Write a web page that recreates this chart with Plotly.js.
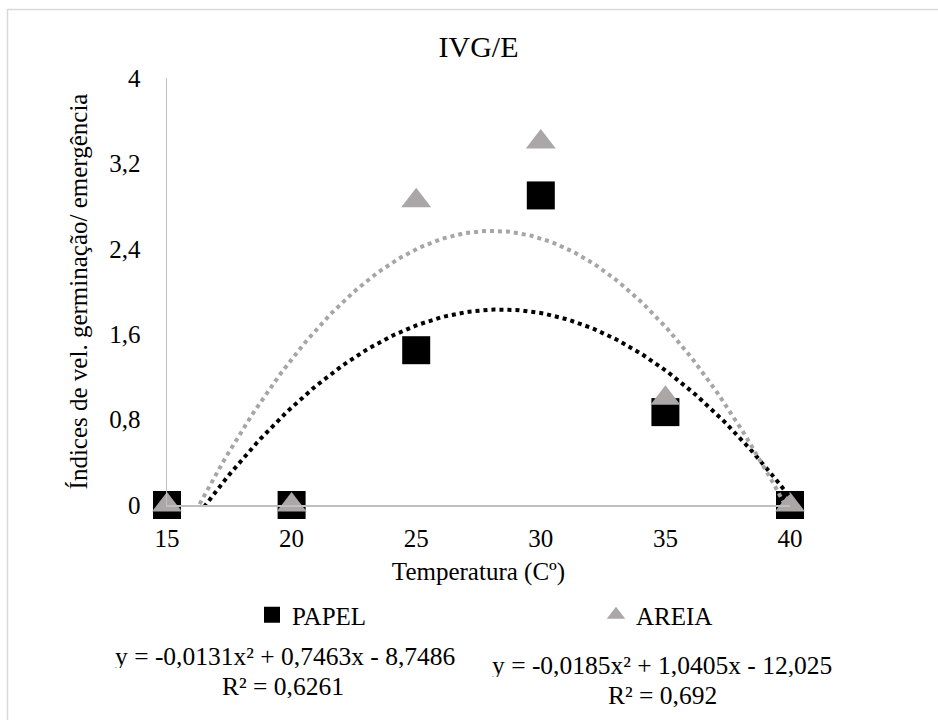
<!DOCTYPE html>
<html>
<head>
<meta charset="utf-8">
<script src="https://cdn.plot.ly/plotly-3.0.1.min.js"></script>
<style>html,body{margin:0;padding:0;background:#fff;}#chart{width:938px;height:720px;}</style>
</head>
<body>
<div id="chart"></div>
<script>
// Data
const temperatures = [15, 20, 25, 30, 35, 40];
const papel = [0, 0, 1.45, 2.9, 0.87, 0];
const areia = [0, 0, 2.85, 3.4, 1.0, 0];
const seriesNames = ['PAPEL', 'AREIA'];
const chartTitle = 'IVG/E';
const xTitle = 'Temperatura (Cº)';
const yTitle = 'Índices de vel. germinação/ emergência';
const eqPapel = ['y = -0,0131x² + 0,7463x - 8,7486', 'R² = 0,6261'];
const eqAreia = ['y = -0,0185x² + 1,0405x - 12,025', 'R² = 0,692'];

// Least-squares quadratic fit (polynomial trendline, order 2)
function quadFit(xs, ys) {
  let S = [0,0,0,0,0], T = [0,0,0];
  for (let i = 0; i < xs.length; i++) {
    let p = 1;
    for (let k = 0; k < 5; k++) { S[k] += p; if (k < 3) T[k] += p * ys[i]; p *= xs[i]; }
  }
  const A = [[S[0],S[1],S[2],T[0]],[S[1],S[2],S[3],T[1]],[S[2],S[3],S[4],T[2]]];
  for (let c = 0; c < 3; c++) {
    for (let r = c + 1; r < 3; r++) {
      const f = A[r][c] / A[c][c];
      for (let k = c; k < 4; k++) A[r][k] -= f * A[c][k];
    }
  }
  const sol = [0,0,0];
  for (let r = 2; r >= 0; r--) {
    let s = A[r][3];
    for (let k = r + 1; k < 3; k++) s -= A[r][k] * sol[k];
    sol[r] = s / A[r][r];
  }
  return sol; // [c0, c1, c2]
}
function trend(xs, ys) {
  const c = quadFit(xs, ys);
  const x0 = Math.min(...xs), x1 = Math.max(...xs);
  const tx = [], ty = [];
  const n = 200;
  for (let i = 0; i <= n; i++) {
    const x = x0 + (x1 - x0) * i / n;
    tx.push(x); ty.push(c[0] + c[1] * x + c[2] * x * x);
  }
  return {x: tx, y: ty};
}
const tP = trend(temperatures, papel);
const tA = trend(temperatures, areia);

const FONT = '"Liberation Serif", "Times New Roman", serif';
const grayMarker = '#aba7a7';

const traces = [
  {x: temperatures, y: papel, name: seriesNames[0], type: 'scatter', mode: 'markers', cliponaxis: false,
   marker: {symbol: 'square', size: 28, color: '#000000'}, legend: 'legend'},
  {x: temperatures, y: areia, name: seriesNames[1], type: 'scatter', mode: 'markers', cliponaxis: false,
   marker: {symbol: 'triangle-up', size: 26, color: grayMarker}, legend: 'legend2'},
  {x: tP.x, y: tP.y, type: 'scatter', mode: 'lines', showlegend: false, hoverinfo: 'skip',
   line: {color: '#000000', width: 4, dash: '4px,4px'}},
  {x: tA.x, y: tA.y, type: 'scatter', mode: 'lines', showlegend: false, hoverinfo: 'skip',
   line: {color: '#a6a6a6', width: 4, dash: '4px,4px'}}
];

const L = 167, R = 148, T = 78, B = 215, W = 938, H = 720;
const pw = W - L - R, ph = H - T - B;
const px = v => (v - L) / pw;
const py = v => (H - B - v) / ph;

const annFont = {family: FONT, size: 25.5, color: '#000'};
const eqAnn = (text, x, y) => ({text: text, xref: 'paper', yref: 'paper', x: px(x), y: py(y),
  xanchor: 'center', yanchor: 'middle', showarrow: false, font: annFont, height: 24, valign: 'middle'});

const layout = {
  width: W, height: H,
  margin: {l: L, r: R, t: T, b: B, pad: 0},
  paper_bgcolor: '#fff', plot_bgcolor: '#fff',
  separators: ', ',
  font: {family: FONT, size: 25, color: '#000'},
  title: {text: chartTitle, font: {family: FONT, size: 30, color: '#000'}, x: 0.5, xref: 'paper', y: 1 - 46 / H, yanchor: 'middle'},
  xaxis: {range: [15, 40], tick0: 15, dtick: 5, showgrid: false, zeroline: false, showline: true,
          linecolor: '#bfbfbf', linewidth: 1.5, ticks: '', ticklabelstandoff: 10,
          tickfont: {family: FONT, size: 25, color: '#000'},
          title: {text: xTitle, font: {family: FONT, size: 25, color: '#000'}, standoff: 12}},
  yaxis: {range: [0, 4], tick0: 0, dtick: 0.8, showgrid: false, zeroline: false, showline: true,
          linecolor: '#bfbfbf', linewidth: 1.5, ticks: '', ticklabelstandoff: 20,
          tickfont: {family: FONT, size: 25, color: '#000'},
          title: {text: yTitle, font: {family: FONT, size: 25, color: '#000'}, standoff: 14}},
  showlegend: true,
  legend: {orientation: 'h', x: px(252), xanchor: 'left', y: py(615), yanchor: 'middle',
           font: {family: FONT, size: 25, color: '#000'}, bgcolor: 'rgba(0,0,0,0)'},
  legend2: {orientation: 'h', x: px(596), xanchor: 'left', y: py(615), yanchor: 'middle',
           font: {family: FONT, size: 25, color: '#000'}, bgcolor: 'rgba(0,0,0,0)'},
  annotations: [
    eqAnn(eqPapel[0], 285, 656),
    eqAnn(eqPapel[1], 283, 686),
    eqAnn(eqAreia[0], 662, 665),
    eqAnn(eqAreia[1], 662, 695)
  ],
  shapes: [
    {type: 'rect', xref: 'paper', yref: 'paper', x0: px(7.5), x1: px(960), y0: py(9.5), y1: py(760),
     line: {color: '#d9d9d9', width: 1.5}, fillcolor: 'rgba(0,0,0,0)', layer: 'below'}
  ]
};

Plotly.newPlot('chart', traces, layout, {displayModeBar: false, staticPlot: true});
</script>
</body>
</html>
